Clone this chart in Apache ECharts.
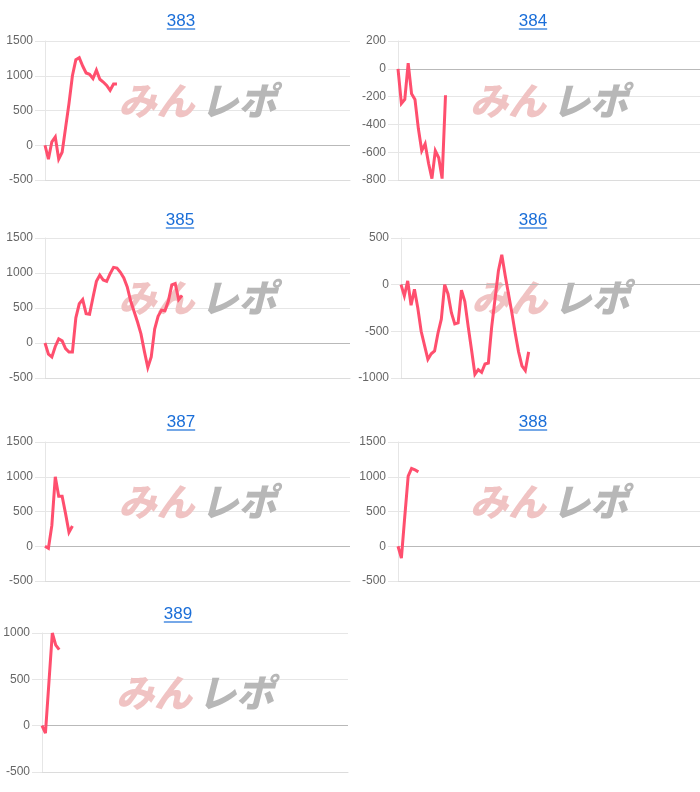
<!DOCTYPE html>
<html>
<head>
<meta charset="utf-8">
<script src="https://cdn.jsdelivr.net/npm/echarts@6/dist/echarts.min.js"></script>
<style>
html,body{margin:0;padding:0;background:#fff;}
#chart{width:700px;height:792px;}
</style>
</head>
<body>
<div id="chart"></div>
<script>
// ---- data ----
const titles = ['383', '384', '385', '386', '387', '388', '389'];
const slots = Array.from({length: 90}, (_, i) => i + 1);   // x-axis category slots (hidden labels)

const s383 = [0, -200, 50, 120, -200, -100, 250, 600, 1000, 1230, 1260, 1140, 1040, 1020, 960, 1080, 950, 910, 860, 790, 880, 880];
const s384 = [0, -250, -220, 40, -180, -220, -430, -590, -540, -680, -790, -590, -640, -790, -190];
const s385 = [0, -160, -200, -50, 60, 30, -80, -130, -130, 360, 560, 620, 420, 410, 650, 880, 970, 900, 880, 990, 1080, 1070, 1010, 930, 800, 600, 450, 300, 130, -120, -350, -200, 200, 380, 470, 460, 600, 830, 850, 620, 680];
const s386 = [0, -120, 40, -220, -50, -250, -500, -650, -800, -740, -710, -520, -370, 0, -100, -300, -420, -410, -60, -180, -450, -700, -960, -910, -940, -850, -840, -450, -150, 150, 320, 100, -100, -300, -520, -720, -870, -920, -720];
const s387 = [0, -30, 300, 1000, 720, 720, 470, 200, 290];
const s388 = [0, -170, 430, 1010, 1120, 1100, 1070];
const s389 = [0, -80, 460, 1000, 870, 820];
const seriesValues = [s383, s384, s385, s386, s387, s388, s389];

const yMins = [-500, -800, -500, -1000, -500, -500, -500];
const yMaxs = [1500, 200, 1500, 500, 1500, 1500, 1000];
const yIntervals = [500, 200, 500, 500, 500, 500, 500];

// ---- layout ----
const layout = [
  {left: 45,  top: 41,  width: 305, height: 139, tx: 181, ty: 21},
  {left: 398, top: 41,  width: 302, height: 139, tx: 533, ty: 21},
  {left: 45,  top: 238, width: 305, height: 140, tx: 180, ty: 220},
  {left: 401, top: 238, width: 299, height: 140, tx: 533, ty: 220},
  {left: 45,  top: 442, width: 305, height: 139, tx: 181, ty: 422},
  {left: 398, top: 442, width: 302, height: 139, tx: 533, ty: 422},
  {left: 42,  top: 633, width: 306, height: 139, tx: 178, ty: 614}
];

const LINE = '#ff4f6e';
const FONT = '"Liberation Sans", Arial, Helvetica, sans-serif';
const TITLE_SIZE = 17;

const measure = (() => {
  const c = document.createElement('canvas').getContext('2d');
  return (t, f) => { c.font = f; return c.measureText(t).width; };
})();

const grids = [], xAxes = [], yAxes = [], series = [], graphics = [];
titles.forEach((t, i) => {
  const L = layout[i];
  grids.push({left: L.left, top: L.top, width: L.width, height: L.height, containLabel: false});
  xAxes.push({
    type: 'category', gridIndex: i, data: slots, boundaryGap: false,
    axisLine: {show: true, onZero: false, lineStyle: {color: '#dcdcdc', width: 1}},
    axisTick: {show: false}, axisLabel: {show: false}, splitLine: {show: false}
  });
  yAxes.push({
    type: 'value', gridIndex: i, min: yMins[i], max: yMaxs[i], interval: yIntervals[i],
    axisLine: {show: true, lineStyle: {color: '#e6e6e6'}},
    axisTick: {show: true, length: 10, lineStyle: {color: '#e6e6e6'}},
    axisLabel: {color: '#666', fontSize: 12, fontFamily: FONT, margin: 12, formatter: v => String(v)},
    splitLine: {show: true, lineStyle: {color: '#e6e6e6', width: 1}}
  });
  series.push({
    type: 'line', xAxisIndex: i, yAxisIndex: i, data: seriesValues[i],
    showSymbol: false, symbol: 'none', z: 5,
    lineStyle: {color: LINE, width: 3, join: 'miter', miterLimit: 4},
    markLine: {
      silent: true, symbol: 'none', animation: false, z: 2,
      label: {show: false},
      lineStyle: {color: '#b9b9b9', width: 1, type: 'solid'},
      data: [{yAxis: 0}]
    }
  });
  // title with underline
  const tw = measure(t, TITLE_SIZE + 'px ' + FONT);
  graphics.push({
    type: 'text', left: L.tx - tw / 2, top: L.ty - 8, z: 10,
    style: {text: t, fill: '#1a6ed8', font: TITLE_SIZE + 'px ' + FONT}
  });
  graphics.push({
    type: 'line', z: 10,
    shape: {x1: L.tx - tw / 2, y1: L.ty + 8, x2: L.tx + tw / 2, y2: L.ty + 8},
    style: {stroke: '#1a6ed8', lineWidth: 1.2}
  });
  // watermark
  const cx = L.left + L.width / 2, cy = L.top + 60;
  graphics.push({
    type: 'text', x: cx - 3, y: cy, z: 1, silent: true,
    style: {text: 'みん', fill: '#f0c3c3', textAlign: 'right', textVerticalAlign: 'middle',
            font: 'italic 900 38px "Noto Sans CJK JP"'}
  });
  graphics.push({
    type: 'text', x: cx + 3, y: cy, z: 1, silent: true,
    style: {text: 'レポ', fill: '#b7b7b7', textAlign: 'left', textVerticalAlign: 'middle',
            font: 'italic 900 38px "Noto Sans CJK JP"'}
  });
});

const chart = echarts.init(document.getElementById('chart'), null, {renderer: 'canvas'});
chart.setOption({
  animation: false,
  backgroundColor: '#fff',
  grid: grids, xAxis: xAxes, yAxis: yAxes, series: series,
  graphic: graphics
});
</script>
</body>
</html>
